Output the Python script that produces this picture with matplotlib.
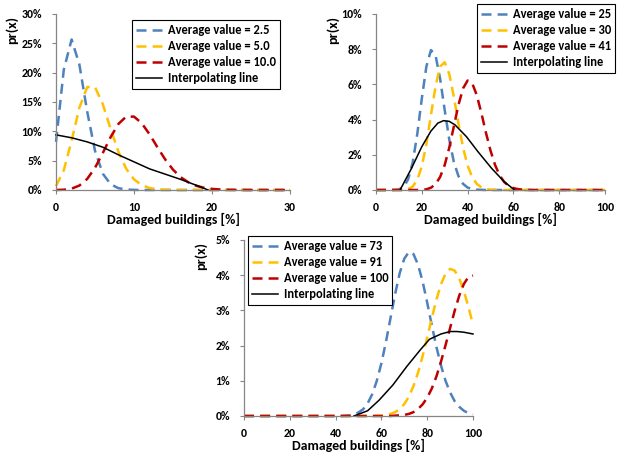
import matplotlib
matplotlib.use("Agg")
import matplotlib.pyplot as plt
from matplotlib.ticker import PercentFormatter, MultipleLocator

plt.rcParams['font.family'] = ['Carlito', 'Lato', 'DejaVu Sans']
plt.rcParams['font.weight'] = 'bold'
plt.rcParams['lines.scale_dashes'] = False

# ---------------- data (probabilities in %) ----------------
# Panel A: low damage levels, x = 0..30 step 1
x_a = list(range(0, 31))
avg_2_5 = [8.21, 20.52, 25.65, 21.38, 13.36, 6.68, 2.78, 0.99, 0.31, 0.09, 0.02,
           0, 0, 0, 0, 0, 0, 0, 0, 0, 0, 0, 0, 0, 0, 0, 0, 0, 0, 0, 0]
avg_5_0 = [0.67, 3.37, 8.42, 14.04, 17.55, 17.55, 14.62, 10.44, 6.53, 3.63, 1.81,
           0.82, 0.34, 0.13, 0.05, 0.02, 0, 0, 0, 0, 0, 0, 0, 0, 0, 0, 0, 0, 0, 0, 0]
avg_10_0 = [0, 0.05, 0.23, 0.76, 1.89, 3.78, 6.31, 9.01, 11.26, 12.51, 12.51,
            11.37, 9.48, 7.29, 5.21, 3.47, 2.17, 1.28, 0.71, 0.37, 0.19,
            0.09, 0.04, 0.02, 0.01, 0, 0, 0, 0, 0, 0]
interp_a_x = [0, 2, 4, 6, 8, 10, 12, 14, 16, 18, 19.5]
interp_a_y = [9.4, 8.9, 8.2, 7.3, 6.0, 4.8, 3.6, 2.7, 1.8, 0.8, 0]

# Panel B: medium damage levels, x = 0..100 step 2
x_b = list(range(0, 101, 2))
avg_25 = [0, 0, 0, 0,
          0.01, 0.04, 0.17, 0.59, 1.55, 3.16, 5.19, 7.02, 7.95, 7.65, 6.32, 4.54,
          2.86, 1.59, 0.79, 0.35, 0.14, 0.05, 0.02, 0.01,
          0, 0, 0, 0, 0, 0, 0, 0, 0, 0, 0, 0, 0, 0, 0, 0, 0, 0, 0, 0, 0, 0, 0,
          0, 0, 0, 0]
avg_30 = [0, 0, 0, 0, 0, 0,
          0.01, 0.05, 0.19, 0.57, 1.34, 2.61, 4.26, 5.9, 7.02, 7.26, 6.59, 5.29,
          3.78, 2.42, 1.39, 0.73, 0.35, 0.15, 0.06, 0.02, 0.01,
          0, 0, 0, 0, 0, 0, 0, 0, 0, 0, 0, 0, 0, 0, 0, 0, 0, 0, 0, 0, 0, 0, 0, 0]
avg_41 = [0, 0, 0, 0, 0, 0, 0, 0, 0, 0,
          0.01, 0.04, 0.13, 0.33, 0.74, 1.42, 2.41, 3.62, 4.83, 5.77, 6.22, 6.07,
          5.39, 4.38, 3.26, 2.24, 1.42, 0.83, 0.45, 0.23, 0.11, 0.05, 0.02, 0.01,
          0, 0, 0, 0, 0, 0, 0, 0, 0, 0, 0, 0, 0, 0, 0, 0, 0]
interp_b_x = [10.5, 15.5, 20, 24, 27, 29.5, 32, 34.5, 39.5, 44.5, 50.5, 56, 60.5]
interp_b_y = [0, 1.23, 2.46, 3.35, 3.8, 3.94, 3.9, 3.7, 3.03, 2.18, 1.23, 0.47, 0]

# Panel C: high damage levels, x = 0..100 step 2
x_c = list(range(0, 101, 2))
avg_73 = [0, 0, 0, 0, 0, 0, 0, 0, 0, 0, 0, 0, 0, 0, 0, 0, 0, 0, 0, 0, 0, 0,
          0.01, 0.02, 0.04, 0.1, 0.19, 0.36, 0.62, 1.0, 1.5, 2.11, 2.79, 3.47,
          4.06, 4.47, 4.66, 4.6, 4.3, 3.82, 3.22, 2.58, 1.97, 1.44, 1.0, 0.67,
          0.42, 0.26, 0.15, 0.08, 0.05]
avg_91 = [0, 0, 0, 0, 0, 0, 0, 0, 0, 0, 0, 0, 0, 0, 0, 0, 0, 0, 0, 0, 0, 0,
          0, 0, 0, 0, 0, 0, 0,
          0.01, 0.01, 0.03, 0.06, 0.11, 0.2, 0.34, 0.55, 0.85, 1.23, 1.7, 2.23,
          2.78, 3.3, 3.74, 4.04, 4.18, 4.13, 3.91, 3.55, 3.1, 2.59]
avg_100 = [0, 0, 0, 0, 0, 0, 0, 0, 0, 0, 0, 0, 0, 0, 0, 0, 0, 0, 0, 0, 0, 0,
           0, 0, 0, 0, 0, 0, 0, 0, 0, 0, 0,
           0.01, 0.02, 0.03, 0.06, 0.11, 0.2, 0.33, 0.52, 0.78, 1.12, 1.54, 2.01,
           2.5, 2.99, 3.42, 3.75, 3.95, 3.99]
interp_c_x = [48, 54, 59, 65, 71, 77, 81, 86, 90, 93, 96, 100]
interp_c_y = [0, 0.15, 0.45, 0.88, 1.4, 1.88, 2.18, 2.33, 2.4, 2.4, 2.38, 2.33]

labels_a = ["Average value = 2.5", "Average value = 5.0", "Average value = 10.0"]
labels_b = ["Average value = 25", "Average value = 30", "Average value = 41"]
labels_c = ["Average value = 73", "Average value = 91", "Average value = 100"]
interp_label = "Interpolating line"

# ---------------- styling ----------------
COLORS = ['#4F81BD', '#FFC000', '#C00000']
DASH = (0, (7.2, 4.4))
AXIS_GREY = '#868686'
W, H = 618, 454


def box(left, top, right, bottom):
    """Axes rectangle from pixel edges."""
    return [left / W, 1 - bottom / H, (right - left) / W, (bottom - top) / H]


def panel(ax, x, series, labels, ix, iy, xmax, xstep, ymax, ystep, legend_xy):
    for ys, c, lab in zip(series, COLORS, labels):
        ax.plot(x, ys, color=c, lw=1.8, linestyle=DASH, label=lab,
                dash_capstyle='butt', clip_on=False)
    ax.plot(ix, iy, color='black', lw=1.1, label=interp_label, clip_on=False)

    ax.set_xlim(0, xmax)
    ax.set_ylim(0, ymax)
    ax.xaxis.set_major_locator(MultipleLocator(xstep))
    ax.yaxis.set_major_locator(MultipleLocator(ystep))
    ax.yaxis.set_major_formatter(PercentFormatter(xmax=100, decimals=0))
    for s in ('top', 'right'):
        ax.spines[s].set_visible(False)
    for s in ('left', 'bottom'):
        ax.spines[s].set_color(AXIS_GREY)
        ax.spines[s].set_linewidth(0.9)
    ax.tick_params(axis='both', direction='out', length=3, width=0.8,
                   color=AXIS_GREY, labelsize=8.6, labelcolor='black')
    ax.tick_params(axis='x', pad=5.5)
    ax.tick_params(axis='y', pad=7)
    ax.set_xlabel("Damaged buildings [%]", fontsize=10, fontweight='bold',
                  labelpad=0)
    ax.set_ylabel("pr(x)", fontsize=10.2, fontweight='bold')
    ax.yaxis.set_label_coords(-0.16, 0.91)

    leg = ax.legend(loc='upper left', bbox_to_anchor=(legend_xy[0] / W, 1 - legend_xy[1] / H),
                    bbox_transform=ax.figure.transFigure, borderaxespad=0,
                    fontsize=9.0, frameon=True, fancybox=False, framealpha=1,
                    edgecolor='black', handlelength=2.1, handletextpad=0.42,
                    labelspacing=0.33, borderpad=0.33)
    leg.get_frame().set_linewidth(0.8)
    leg.set_zorder(5)
    return ax


fig = plt.figure(figsize=(W / 100, H / 100), dpi=100)

ax1 = fig.add_axes(box(56, 14, 290, 190))
panel(ax1, x_a, [avg_2_5, avg_5_0, avg_10_0], labels_a, interp_a_x, interp_a_y,
      30, 10, 30, 5, (132, 20))

ax2 = fig.add_axes(box(376, 14, 605, 190))
panel(ax2, x_b, [avg_25, avg_30, avg_41], labels_b, interp_b_x, interp_b_y,
      100, 20, 10, 2, (477, 4))

ax3 = fig.add_axes(box(244, 240, 473, 416))
panel(ax3, x_c, [avg_73, avg_91, avg_100], labels_c, interp_c_x, interp_c_y,
      100, 20, 5, 1, (248, 236))

fig.savefig("out.png", dpi=100)
